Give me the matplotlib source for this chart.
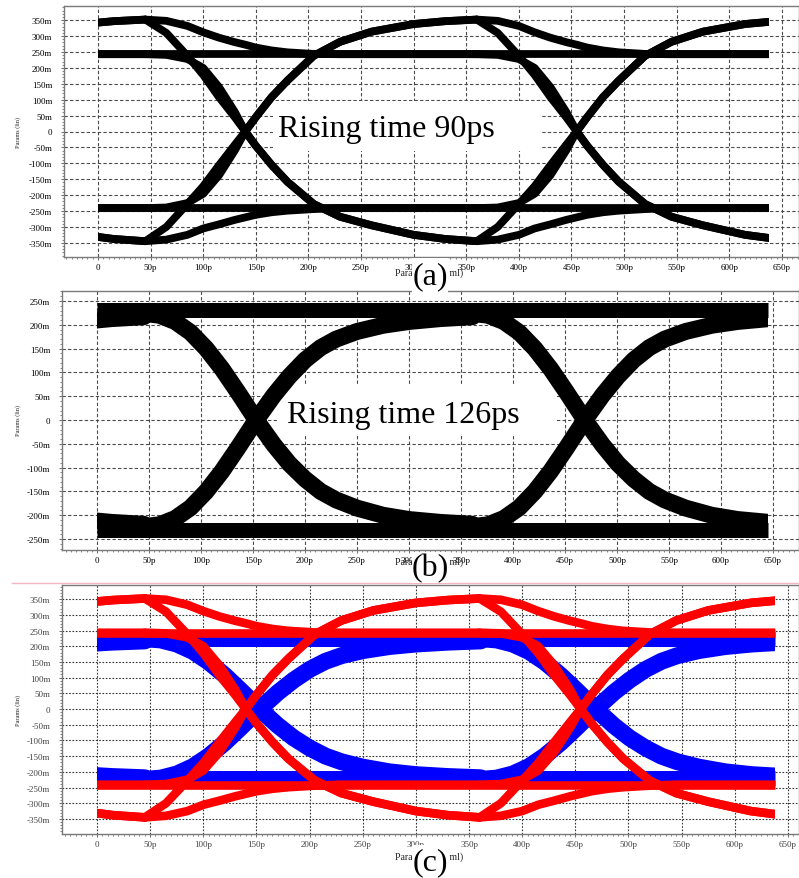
# Eye diagrams: (a) 90ps rise, (b) 126ps rise, (c) overlay
import matplotlib
matplotlib.use("Agg")
import matplotlib.pyplot as plt
from matplotlib.patches import Rectangle
from matplotlib.lines import Line2D
from matplotlib.ticker import MultipleLocator, FuncFormatter
import numpy as np

W, H = 799, 879

# ---- (a) rising time 90ps : one bit-long piece of each trace (ps, mV) ----
ta = [45, 65, 85, 100, 115, 130, 140, 150, 165, 180, 205, 230, 260, 300, 330, 360]
a_hi_decay = [352, 348, 332, 312, 295, 281, 273, 264, 255, 249, 244, 243, 243, 243, 243, 243]
a_hi_fall_peak = [352, 310, 238, 178, 108, 45, 0, -45, -105, -158, -228, -268, -295, -325, -338, -345]
a_hi_fall_flat = [243, 241, 228, 200, 140, 62, 0, -45, -105, -158, -228, -268, -295, -325, -338, -345]
a_lo_decay = [-345, -340, -325, -305, -292, -278, -270, -262, -254, -249, -244, -241, -241, -241, -241, -241]
a_lo_rise_peak = [-345, -300, -228, -172, -106, -42, 0, 45, 108, 160, 238, 282, 314, 338, 347, 352]
a_lo_rise_flat = [-241, -239, -225, -196, -138, -60, 0, 45, 108, 160, 238, 282, 314, 338, 347, 352]
a_levels = [243, -241]
a_ui = 315

# ---- (b) rising time 126ps ----
tb = [45, 60, 75, 90, 105, 120, 135, 153, 170, 185, 200, 215, 230, 250, 275, 300, 330, 361]
b_fall = [224, 220, 207, 184, 150, 108, 60, 0, -52, -92, -124, -150, -168, -185, -200, -209, -215, -219]
b_rise = [-224, -220, -207, -184, -150, -108, -60, 0, 52, 92, 126, 152, 170, 186, 199, 207, 213, 217]
b_levels = [232, -231]
b_ui = 316

# ---- (c) overlay: blue = 126ps, red = 90ps ----
c_blue_levels = [222, -220]

t_first = 0
a_last, b_last = 638, 645

a_pieces = [a_hi_decay, a_hi_fall_peak, a_hi_fall_flat, a_lo_decay, a_lo_rise_peak, a_lo_rise_flat]
b_pieces = [b_fall, b_rise]


def fx(x):
    return x / W


def fy(y):
    return 1 - y / H


def draw_eye(ax, t, pieces, levels, ui, t_last, color, lw, lw_flat):
    clip = Rectangle((t_first, -1000), t_last - t_first, 2000, transform=ax.transData)
    for v in levels:
        ax.plot([t_first, t_last], [v, v], color=color, lw=lw_flat, solid_capstyle='butt', zorder=2)
    for k in (-1, 0, 1):
        tt = np.array(t) + k * ui
        for v in pieces:
            ln, = ax.plot(tt, v, color=color, lw=lw, solid_capstyle='round',
                          solid_joinstyle='round', zorder=2)
            ln.set_clip_path(clip)


def setup(ax, xlim, ylim, grid_dash, grid_color, lab_color):
    ax.set_xlim(xlim)
    ax.set_ylim(ylim)
    ax.xaxis.set_major_locator(MultipleLocator(50))
    ax.xaxis.set_minor_locator(MultipleLocator(5))
    ax.yaxis.set_major_locator(MultipleLocator(50))
    ax.yaxis.set_minor_locator(MultipleLocator(10))
    ax.xaxis.set_major_formatter(FuncFormatter(lambda v, p: '0' if abs(v) < 1e-6 else '%dp' % round(v)))
    ax.yaxis.set_major_formatter(FuncFormatter(lambda v, p: '0' if abs(v) < 1e-6 else '%dm' % round(v)))
    ax.set_axisbelow(True)
    ax.grid(True, which='major', color=grid_color, lw=0.8, ls=grid_dash)
    for s in ax.spines.values():
        s.set_color('#7a7a7a')
        s.set_linewidth(1.0)
    ax.tick_params(which='major', direction='out', length=2.5, width=0.6, color='#555555',
                   labelsize=6.5, labelcolor=lab_color)
    ax.tick_params(axis='y', which='major', pad=6)
    ax.tick_params(axis='x', which='major', pad=1.8)
    ax.tick_params(which='minor', direction='out', length=1.5, width=0.5, color='#555555')
    for lab in ax.get_xticklabels() + ax.get_yticklabels():
        lab.set_family('Liberation Serif')


fig = plt.figure(figsize=(W / 100, H / 100), dpi=100)

ax_a = fig.add_axes([fx(64), fy(258), (W - 64) / W, 251 / H])
ax_b = fig.add_axes([fx(62), fy(551), (W - 62) / W, 259 / H])
ax_c = fig.add_axes([fx(62), fy(835), (W - 62) / W, 249 / H])

draw_eye(ax_a, ta, a_pieces, a_levels, a_ui, a_last, 'black', 5.6, 5.6)
draw_eye(ax_b, tb, b_pieces, b_levels, b_ui, b_last, 'black', 12.2, 10.8)
draw_eye(ax_c, tb, b_pieces, c_blue_levels, b_ui, a_last, '#0000ff', 12.2, 10.8)
draw_eye(ax_c, ta, a_pieces, a_levels, a_ui, a_last, '#ff0000', 6.2, 6.2)

setup(ax_a, (-32.3, 666.3), (-394.7, 394.7), (0, (3, 2)), '#4a4a4a', 'black')
setup(ax_b, (-33.7, 675.0), (-273, 271), (0, (3, 2)), '#4a4a4a', 'black')
setup(ax_c, (-32.9, 660.4), (-398, 395), (0, (1.5, 1.5)), '#333333', '#444444')

# white boxes behind the "Rising time" notes (over grid, under traces)
ax_a.add_patch(Rectangle((fx(273), fy(152)), (540 - 273) / W, 50 / H, transform=fig.transFigure,
                         facecolor='white', edgecolor='none', zorder=1))
ax_b.add_patch(Rectangle((fx(277), fy(437)), (555 - 277) / W, 50 / H, transform=fig.transFigure,
                         facecolor='white', edgecolor='none', zorder=1))

serif = 'Liberation Serif'
fig.text(fx(278), fy(137), 'Rising time 90ps', fontsize=23, family=serif, ha='left', va='baseline')
fig.text(fx(287), fy(423), 'Rising time 126ps', fontsize=23, family=serif, ha='left', va='baseline')

# axis titles of the waveform viewer (partly hidden under the panel letters)
for yc in (132, 420, 710):
    fig.text(fx(18), fy(yc), 'Params (lin)', rotation=90, fontsize=4.5, family=serif,
             ha='center', va='center', color='#222222')
for yc in (273, 562, 857):
    fig.text(fx(395), fy(yc), 'Params (time ml)', fontsize=7, family=serif,
             ha='left', va='center', color='#222222', zorder=1)

# pink rule at top of (c)
fig.add_artist(Line2D([fx(12), 1], [fy(584), fy(584)], color='#f2b6c2', lw=1.0,
                      transform=fig.transFigure))

# panel letters on white patches
for lab, y0, y1 in (('(a)', 259, 294), ('(b)', 553, 584), ('(c)', 846, 879)):
    fig.patches.append(Rectangle((fx(412), fy(y1)), 36 / W, (y1 - y0) / H, transform=fig.transFigure,
                                 facecolor='white', edgecolor='none', zorder=2))
    fig.text(fx(430), fy((y0 + y1) / 2), lab, fontsize=23, family=serif,
             ha='center', va='center', zorder=4)

fig.savefig('out.png', dpi=100)
